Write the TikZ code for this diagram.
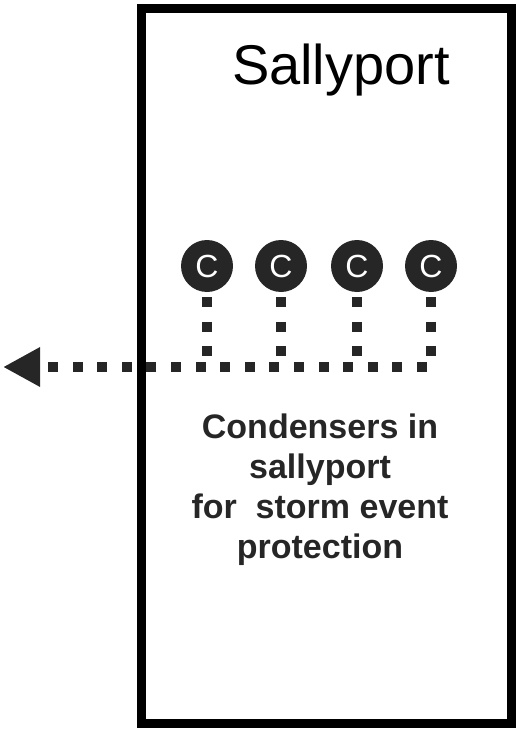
\documentclass[tikz,border=0pt]{standalone}
\usepackage{fontspec}
\setmainfont{Liberation Sans}
\usepackage{tikz}
\usetikzlibrary{arrows.meta,calc,positioning}
\usepackage{xcolor}

\begin{document}
\begin{tikzpicture}[x=1pt,y=-1pt,
	  every node/.style={align=center,draw=none},
	  room/.style={draw=black,line width=9pt,minimum width=370pt,minimum height=714pt,inner sep=0pt},
	  condenser/.style={circle,fill=black!85,minimum size=52pt,inner sep=0pt,text=white,font=\fontsize{32}{32}\selectfont},
	  conduit/.style={draw=black!85,line width=10pt,dash pattern=on 10pt off 14.6pt,shorten <=5pt},
	  outflow/.style={-{Triangle[length=37pt,width=37pt]}}]

	  \useasboundingbox (0,0) rectangle (521,730);

	  % The sallyport room
	  \node[room] (room) at (326,366) {};
	  \node[anchor=base,font=\fontsize{56}{56}\selectfont] (title) at (341,85) {Sallyport};

	  % Condensers
	  \node[condenser] (c1) at (207,266) {C};
	  \node[condenser] (c2) at (281,266) {C};
	  \node[condenser] (c3) at (357,266) {C};
	  \node[condenser] (c4) at (431,266) {C};
	  \coordinate (outlet) at (3,367);

	  % Drain lines
	  \draw[conduit,outflow] (c4.south) |- (outlet);
	  \draw[conduit] (c1.south) -- (c1.south |- outlet);
	  \draw[conduit] (c2.south) -- (c2.south |- outlet);
	  \draw[conduit] (c3.south) -- (c3.south |- outlet);

	  \node[anchor=base,font=\bfseries\fontsize{34}{40}\selectfont,text=black!85] (note) at (320,558)
	    {Condensers in\\sallyport\\for~ storm event\\protection};
\end{tikzpicture}
\end{document}
